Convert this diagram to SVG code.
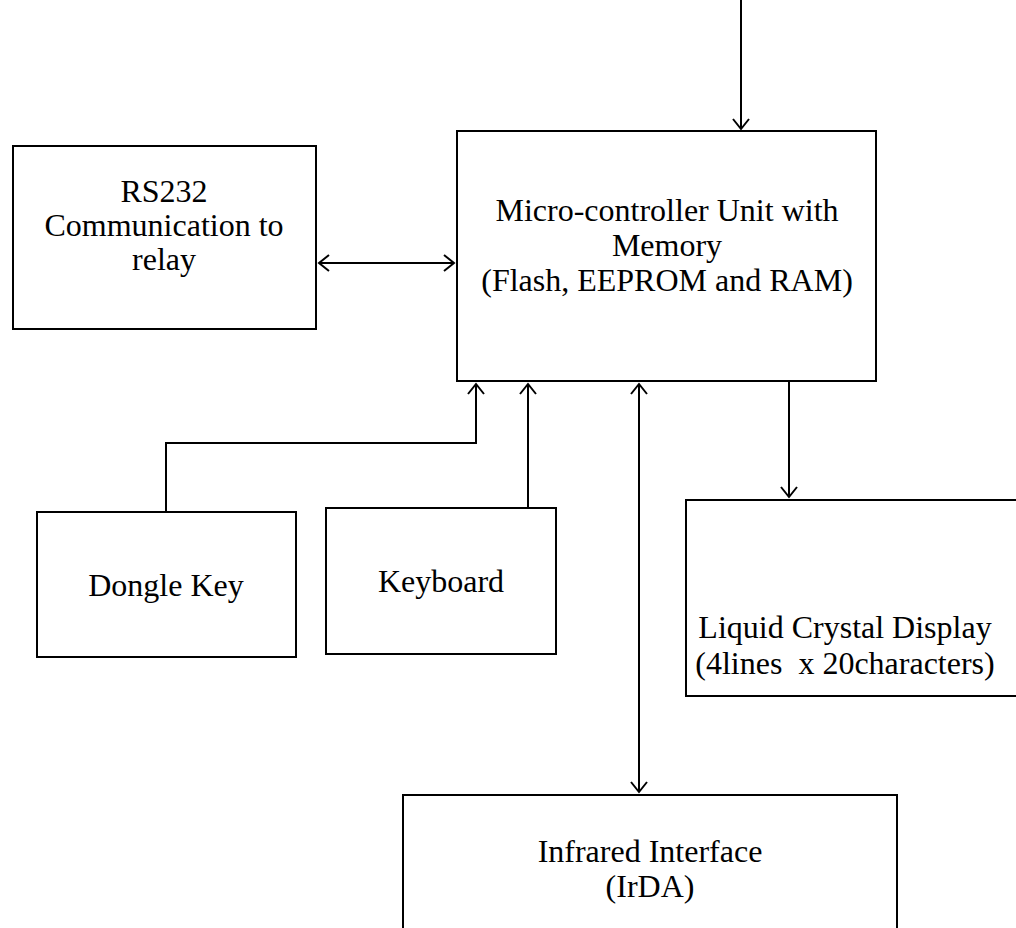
<svg xmlns="http://www.w3.org/2000/svg" width="1016" height="928" viewBox="0 0 1016 928">
<defs>
<style>
.box{fill:#fff;stroke:#000;stroke-width:2}
.ln{fill:none;stroke:#000;stroke-width:2}
text{font-family:"Liberation Serif","Times New Roman",serif;font-size:32px;fill:#000;text-anchor:middle}
</style>
<marker id="ah" viewBox="-12 -9 14 18" markerWidth="14" markerHeight="18" refX="0" refY="0" orient="auto-start-reverse" markerUnits="userSpaceOnUse">
<path d="M -10 -8 L 0 0 L -10 8" fill="none" stroke="#000" stroke-width="2"/>
</marker>
</defs>
<rect width="1016" height="928" fill="#fff"/>
<g id="connectors">
<line class="ln" x1="741" y1="0" x2="741" y2="129" marker-end="url(#ah)"/>
<line class="ln" x1="319" y1="263" x2="454" y2="263" marker-start="url(#ah)" marker-end="url(#ah)"/>
<polyline class="ln" points="166,512 166,443 476,443 476,384" marker-end="url(#ah)"/>
<line class="ln" x1="528" y1="508" x2="528" y2="384" marker-end="url(#ah)"/>
<line class="ln" x1="639" y1="384" x2="639" y2="792" marker-start="url(#ah)" marker-end="url(#ah)"/>
<line class="ln" x1="789" y1="381" x2="789" y2="497" marker-end="url(#ah)"/>
</g>
<g id="rs232">
<rect class="box" x="13" y="146" width="303" height="183"/>
<text x="164" y="202">RS232</text>
<text x="164" y="236">Communication to</text>
<text x="164" y="270">relay</text>
</g>
<g id="mcu">
<rect class="box" x="457" y="131" width="419" height="250"/>
<text x="667" y="221">Micro-controller Unit with</text>
<text x="667" y="256">Memory</text>
<text x="667" y="291">(Flash, EEPROM and RAM)</text>
</g>
<g id="dongle">
<rect class="box" x="37" y="512" width="259" height="145"/>
<text x="166" y="596">Dongle Key</text>
</g>
<g id="keyboard">
<rect class="box" x="326" y="508" width="230" height="146"/>
<text x="441" y="592">Keyboard</text>
</g>
<g id="lcd">
<rect class="box" x="686" y="500" width="340" height="196"/>
<text x="845" y="638">Liquid Crystal Display</text>
<text x="845" y="674" xml:space="preserve">(4lines  x 20characters)</text>
</g>
<g id="irda">
<rect class="box" x="403" y="795" width="494" height="145"/>
<text x="650" y="862">Infrared Interface</text>
<text x="650" y="897">(IrDA)</text>
</g>
</svg>
